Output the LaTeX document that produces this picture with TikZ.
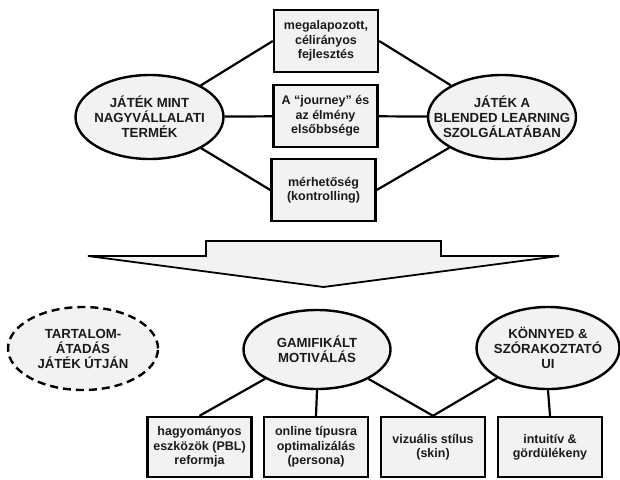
\documentclass[tikz,border=0pt]{standalone}
\usepackage{fontspec}
\setmainfont{Liberation Sans}
\usetikzlibrary{shapes.geometric}
\definecolor{boxfill}{HTML}{F2F2F2}
\definecolor{ink}{HTML}{1A1A1A}

\begin{document}
\begin{tikzpicture}[x=1pt,y=-1pt,
        box/.style={draw=black,rectangle,fill=boxfill,line width=2.4pt,minimum width=104pt,minimum height=62pt,inner sep=1pt,align=center,text=ink,font=\fontsize{12.5}{14.5}\selectfont\bfseries},
        oval/.style={draw=black,ellipse,fill=boxfill,line width=2.4pt,inner xsep=-20pt,inner ysep=0pt,align=center,text=ink,font=\fontsize{13.2}{15}\selectfont\bfseries},
        link/.style={draw=black,line width=2.2pt}
      ]
      \useasboundingbox (0,0) rectangle (620,479);
      % Top half.
      \node[oval,minimum width=148pt,minimum height=84pt] (game) at (149.5,117) {JÁTÉK MINT\\NAGYVÁLLALATI\\TERMÉK};
      \node[oval,minimum width=148pt,minimum height=84pt] (blend) at (502,117) {JÁTÉK A\\BLENDED LEARNING\\SZOLGÁLATÁBAN};
      \node[box] (dev) at (326,41) {megalapozott,\\célirányos\\fejlesztés};
      \node[box] (jour) at (325.5,116) {A “journey” és\\az élmény\\elsőbbsége};
      \node[box] (meas) at (323.5,190) {mérhetőség\\(kontrolling)};
      % Connections.
      \draw[link] (game) -- (dev.west);
      \draw[link] (game) -- (jour);
      \draw[link] (game) -- (meas.west);
      \draw[link] (dev.east) -- (blend);
      \draw[link] (jour) -- (blend);
      \draw[link] (meas.east) -- (blend);
      % Big arrow.
      \draw[fill=boxfill,line width=1.8pt,line join=miter] (88,256) -- (206,256) -- (206,241) -- (441,241) -- (441,256) -- (559,256) -- (323.5,287) -- cycle;
      % Bottom half.
      \node[oval,dash pattern=on 8pt off 5pt,minimum width=150pt,minimum height=83pt] (cont) at (83,348.5) {TARTALOM-\\ÁTADÁS\\JÁTÉK ÚTJÁN};
      \node[oval,minimum width=147pt,minimum height=79pt] (gam) at (317,349.5) {GAMIFIKÁLT\\MOTIVÁLÁS};
      \node[oval,minimum width=143pt,minimum height=82pt] (ui) at (548,348) {KÖNNYED \&\\SZÓRAKOZTATÓ\\UI};
      \node[box,minimum height=60pt] (pbl) at (199.5,447) {hagyományos\\eszközök (PBL)\\reformja};
      \node[box,minimum height=60pt] (pers) at (316,447) {online típusra\\optimalizálás\\(persona)};
      \node[box,minimum height=60pt] (skin) at (433,447) {vizuális stílus\\(skin)};
      \node[box,minimum height=60pt] (flow) at (550,447) {intuitív \&\\gördülékeny};
      % Connections.
      \draw[link] (gam) -- (pbl.north);
      \draw[link] (gam.south) -- (pers.north);
      \draw[link] (gam) -- (skin.north);
      \draw[link] (ui) -- (skin.north);
      \draw[link] (ui.south) -- (flow.north);
    \end{tikzpicture}
\end{document}
